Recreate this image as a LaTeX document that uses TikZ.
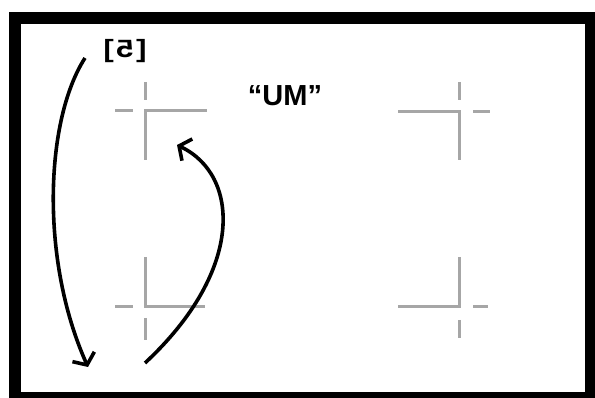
\documentclass[tikz,border=0pt]{standalone}
\usepackage{fontspec}
\setmainfont{Liberation Sans}
\usepackage{tikz}
\usetikzlibrary{arrows.meta, positioning, calc}

\begin{document}
\begin{tikzpicture}[
    x=1pt, y=-1pt,
    frame/.style={draw=black, line width=12pt},
    cropline/.style={draw=black!35, line width=3pt},
    stroke/.style={draw=black, line width=3.6pt, -{Straight Barb[length=9pt, width=24pt, line width=3.6pt]}},
    tag/.style={font=\bfseries\fontsize{25}{25}\selectfont, inner sep=0pt},
]
\useasboundingbox (0,0) rectangle (595,398);

% Frame
\draw [frame] (14.5,18) rectangle (591,398);

% Crop marks
\draw [cropline] (207,111) -- (145,111) -- (145,160);
\draw [cropline] (115,111) -- (133,111) (145,82) -- (145,100);
\draw [cropline] (398,112) -- (459,112) -- (459,160);
\draw [cropline] (473,112) -- (490,112) (459,82) -- (459,100);
\draw [cropline] (145,257) -- (145,307) -- (205,307);
\draw [cropline] (115,307) -- (133,307) (145,318) -- (145,340);
\draw [cropline] (459,257) -- (459,307) -- (398,307);
\draw [cropline] (473,307) -- (488,307) (459,320) -- (459,338);

% Labels
\node (five) [tag] at (125,51) {\scalebox{-1.25}[1]{[\hspace{2pt}5\hspace{2pt}]}};
\node (um) [tag, font=\bfseries\fontsize{29}{29}\selectfont] at (285,96) {“UM”};

% Arrow ends
\coordinate (downstart) at (85,58);
\coordinate (downend) at (88,367);
\coordinate (upstart) at (145,363);
\coordinate (upend) at (177,145);

% Arrows
\draw [stroke] (downstart) .. controls (45,120) and (40,260) .. (downend);
\draw [stroke] (upstart) .. controls (245,270) and (240,175) .. (upend);

\end{tikzpicture}
\end{document}
